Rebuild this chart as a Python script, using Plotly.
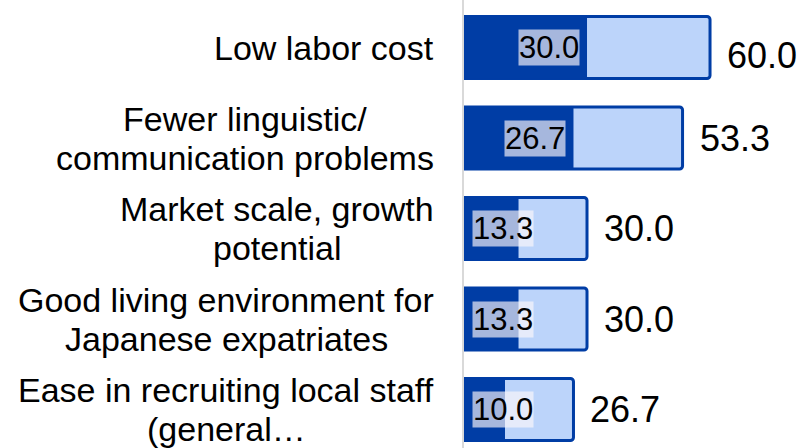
import plotly.graph_objects as go

categories = [
    "Low labor cost",
    "Fewer linguistic/<br>communication problems",
    "Market scale, growth<br>potential",
    "Good living environment for<br>Japanese expatriates",
    "Ease in recruiting local staff<br>(general…",
]
total_values = [60.0, 53.3, 30.0, 30.0, 26.7]
first_values = [30.0, 26.7, 13.3, 13.3, 10.0]

DARK = "#003DA5"
LIGHT = "#BCD4FA"
FONT = "Liberation Sans, Arial, sans-serif"
CAT_SIZE = 34
LINE_GAP = 39  # px between baselines of wrapped category lines

# Arial / Liberation Sans advance widths (1/1000 em), used to centre wrapped lines
ADV = {
    " ": 278, "(": 333, ")": 333, ",": 278, "/": 278, "…": 1000, ".": 278,
    "a": 556, "b": 556, "c": 500, "d": 556, "e": 556, "f": 278, "g": 556,
    "h": 556, "i": 222, "j": 222, "k": 500, "l": 222, "m": 833, "n": 556,
    "o": 556, "p": 556, "q": 556, "r": 333, "s": 500, "t": 278, "u": 556,
    "v": 500, "w": 722, "x": 500, "y": 500, "z": 500,
    "E": 667, "F": 611, "G": 778, "J": 500, "L": 556, "M": 833,
}


def text_w(s, size):
    return sum(ADV.get(ch, 556) for ch in s) * size / 1000.0


W, H = 799, 448
ML = 464
XMAX = 81.7
px_per_unit = (W - ML) / XMAX

slot = 90.5
y_top = -0.525
y_bot = y_top + H / slot

fig = go.Figure()
fig.add_trace(go.Bar(
    y=categories, x=total_values, orientation="h", width=0.685,
    marker=dict(color=LIGHT, line=dict(color=DARK, width=3), cornerradius=3),
    hoverinfo="skip", showlegend=False,
))
fig.add_trace(go.Bar(
    y=categories, x=first_values, orientation="h", width=0.685,
    marker=dict(color=DARK, line=dict(width=0)),
    hoverinfo="skip", showlegend=False,
))

annotations = []
# category labels: lines centred on each other, block right-aligned
for c in categories:
    lines = c.split("<br>")
    maxw = max(text_w(s, CAT_SIZE) for s in lines)
    n = len(lines)
    for i, s in enumerate(lines):
        annotations.append(dict(
            x=0, xref="paper", y=c, yref="y", text=s, showarrow=False,
            xanchor="center", yanchor="middle",
            xshift=-30 - maxw / 2,
            yshift=((n - 1) / 2 - i) * LINE_GAP,
            font=dict(family=FONT, size=CAT_SIZE, color="#000000"),
        ))
# inside labels (first values)
label_w = 57
for c, v in zip(categories, first_values):
    if v * px_per_unit - 7 >= label_w + 8:
        pos = dict(x=v, xanchor="right", xshift=-7)
    else:
        pos = dict(x=0, xanchor="left", xshift=8)
    annotations.append(dict(
        y=c, yref="y", xref="x", text=f"{v:.1f}", showarrow=False,
        yanchor="middle", bgcolor="rgba(252,248,250,0.66)", borderpad=0,
        font=dict(family=FONT, size=31, color="#000000"), **pos,
    ))
# outside labels (totals)
vmax = max(total_values)
for c, v in zip(categories, total_values):
    annotations.append(dict(
        x=v, xref="x", y=c, yref="y", text=f"{v:.1f}", showarrow=False,
        xanchor="left", yanchor="middle", xshift=15,
        yshift=-8 if v == vmax else 0,
        font=dict(family=FONT, size=36, color="#000000"),
    ))

fig.update_layout(
    width=W, height=H,
    margin=dict(l=ML, r=0, t=0, b=0),
    barmode="overlay",
    plot_bgcolor="white", paper_bgcolor="white",
    xaxis=dict(range=[0, XMAX], showgrid=False, zeroline=False,
               showticklabels=False, showline=False, fixedrange=True),
    yaxis=dict(range=[y_bot, y_top], showgrid=False, zeroline=False,
               showticklabels=False, showline=True, linecolor="#D9D9D9",
               linewidth=1.5, ticks="", fixedrange=True),
    annotations=annotations,
    showlegend=False,
)

fig.write_html(
    "out.html",
    config={"displayModeBar": False},
    post_script="document.body.style.margin='0';document.body.style.overflow='hidden';",
)
